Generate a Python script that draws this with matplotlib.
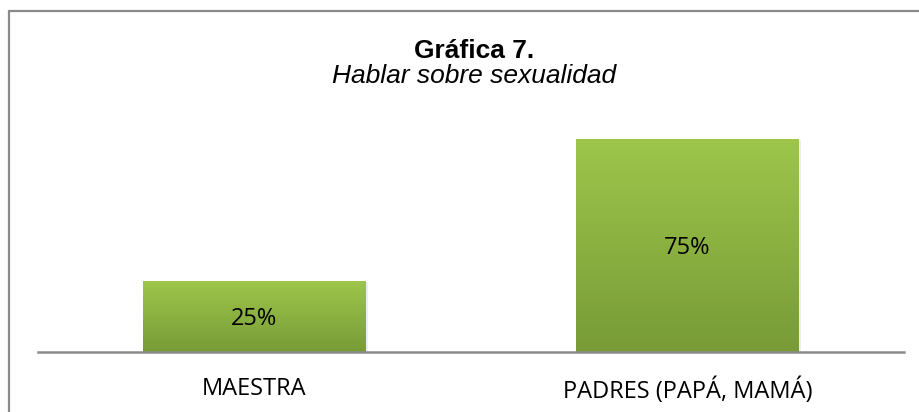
import numpy as np
import matplotlib.pyplot as plt
from matplotlib.patches import Rectangle
from matplotlib.colors import LinearSegmentedColormap
import matplotlib.patheffects as pe

categorias = ['MAESTRA', 'PADRES (PAPÁ, MAMÁ)']
valores = [0.25, 0.75]
etiquetas = ['25%', '75%']

fig = plt.figure(figsize=(9.2, 4.12), dpi=100)
W, H = 920, 412

# marco gris del grafico
fig.patches.append(Rectangle((9 / W, -0.1), 1.2, 1 - 10.5 / H + 0.1,
                             transform=fig.transFigure, fill=False,
                             edgecolor='#8a8a8a', linewidth=1.6))

ax = fig.add_axes([38 / W, 1 - 352 / H, 866 / W, 227.2 / H])
x = np.arange(len(categorias))
barras = ax.bar(x, valores, width=0.515, color='#8bb043',
                path_effects=[pe.SimplePatchShadow(offset=(1.5, -1), alpha=0.12, shadow_rgbFace='#777777'),
                              pe.Normal()])

verde = LinearSegmentedColormap.from_list('verde', ['#789b37', '#9dc64b'])
grad = np.linspace(0, 1, 256).reshape(-1, 1)
for b in barras:
    im = ax.imshow(grad, cmap=verde, origin='lower', aspect='auto',
                   extent=[b.get_x(), b.get_x() + b.get_width(), 0, b.get_height()],
                   zorder=2)
    im.set_clip_path(b)

for xi, v, t in zip(x, valores, etiquetas):
    ax.text(xi, v / 2 - 0.01, t, ha='center', va='center', fontsize=17,
            family='Open Sans', zorder=3)

ax.set_xticks(x)
ax.set_xticklabels(categorias, fontsize=17, family='Open Sans')
ax.tick_params(axis='x', length=0, pad=18)
ax.set_yticks([])
for s in ['top', 'right', 'left']:
    ax.spines[s].set_visible(False)
ax.spines['bottom'].set_color('#8c8c8c')
ax.spines['bottom'].set_linewidth(1.8)
ax.set_xlim(-0.5, 1.5)
ax.set_ylim(0, 0.8)

fig.text(474 / W, 1 - 58 / H, 'Gráfica 7.', ha='center', va='baseline',
         fontsize=19, fontweight='bold', family='Liberation Sans')
fig.text(474 / W, 1 - 83 / H, 'Hablar sobre sexualidad', ha='center', va='baseline',
         fontsize=19, style='italic', family='Liberation Sans')

fig.savefig('out.png', dpi=100)
